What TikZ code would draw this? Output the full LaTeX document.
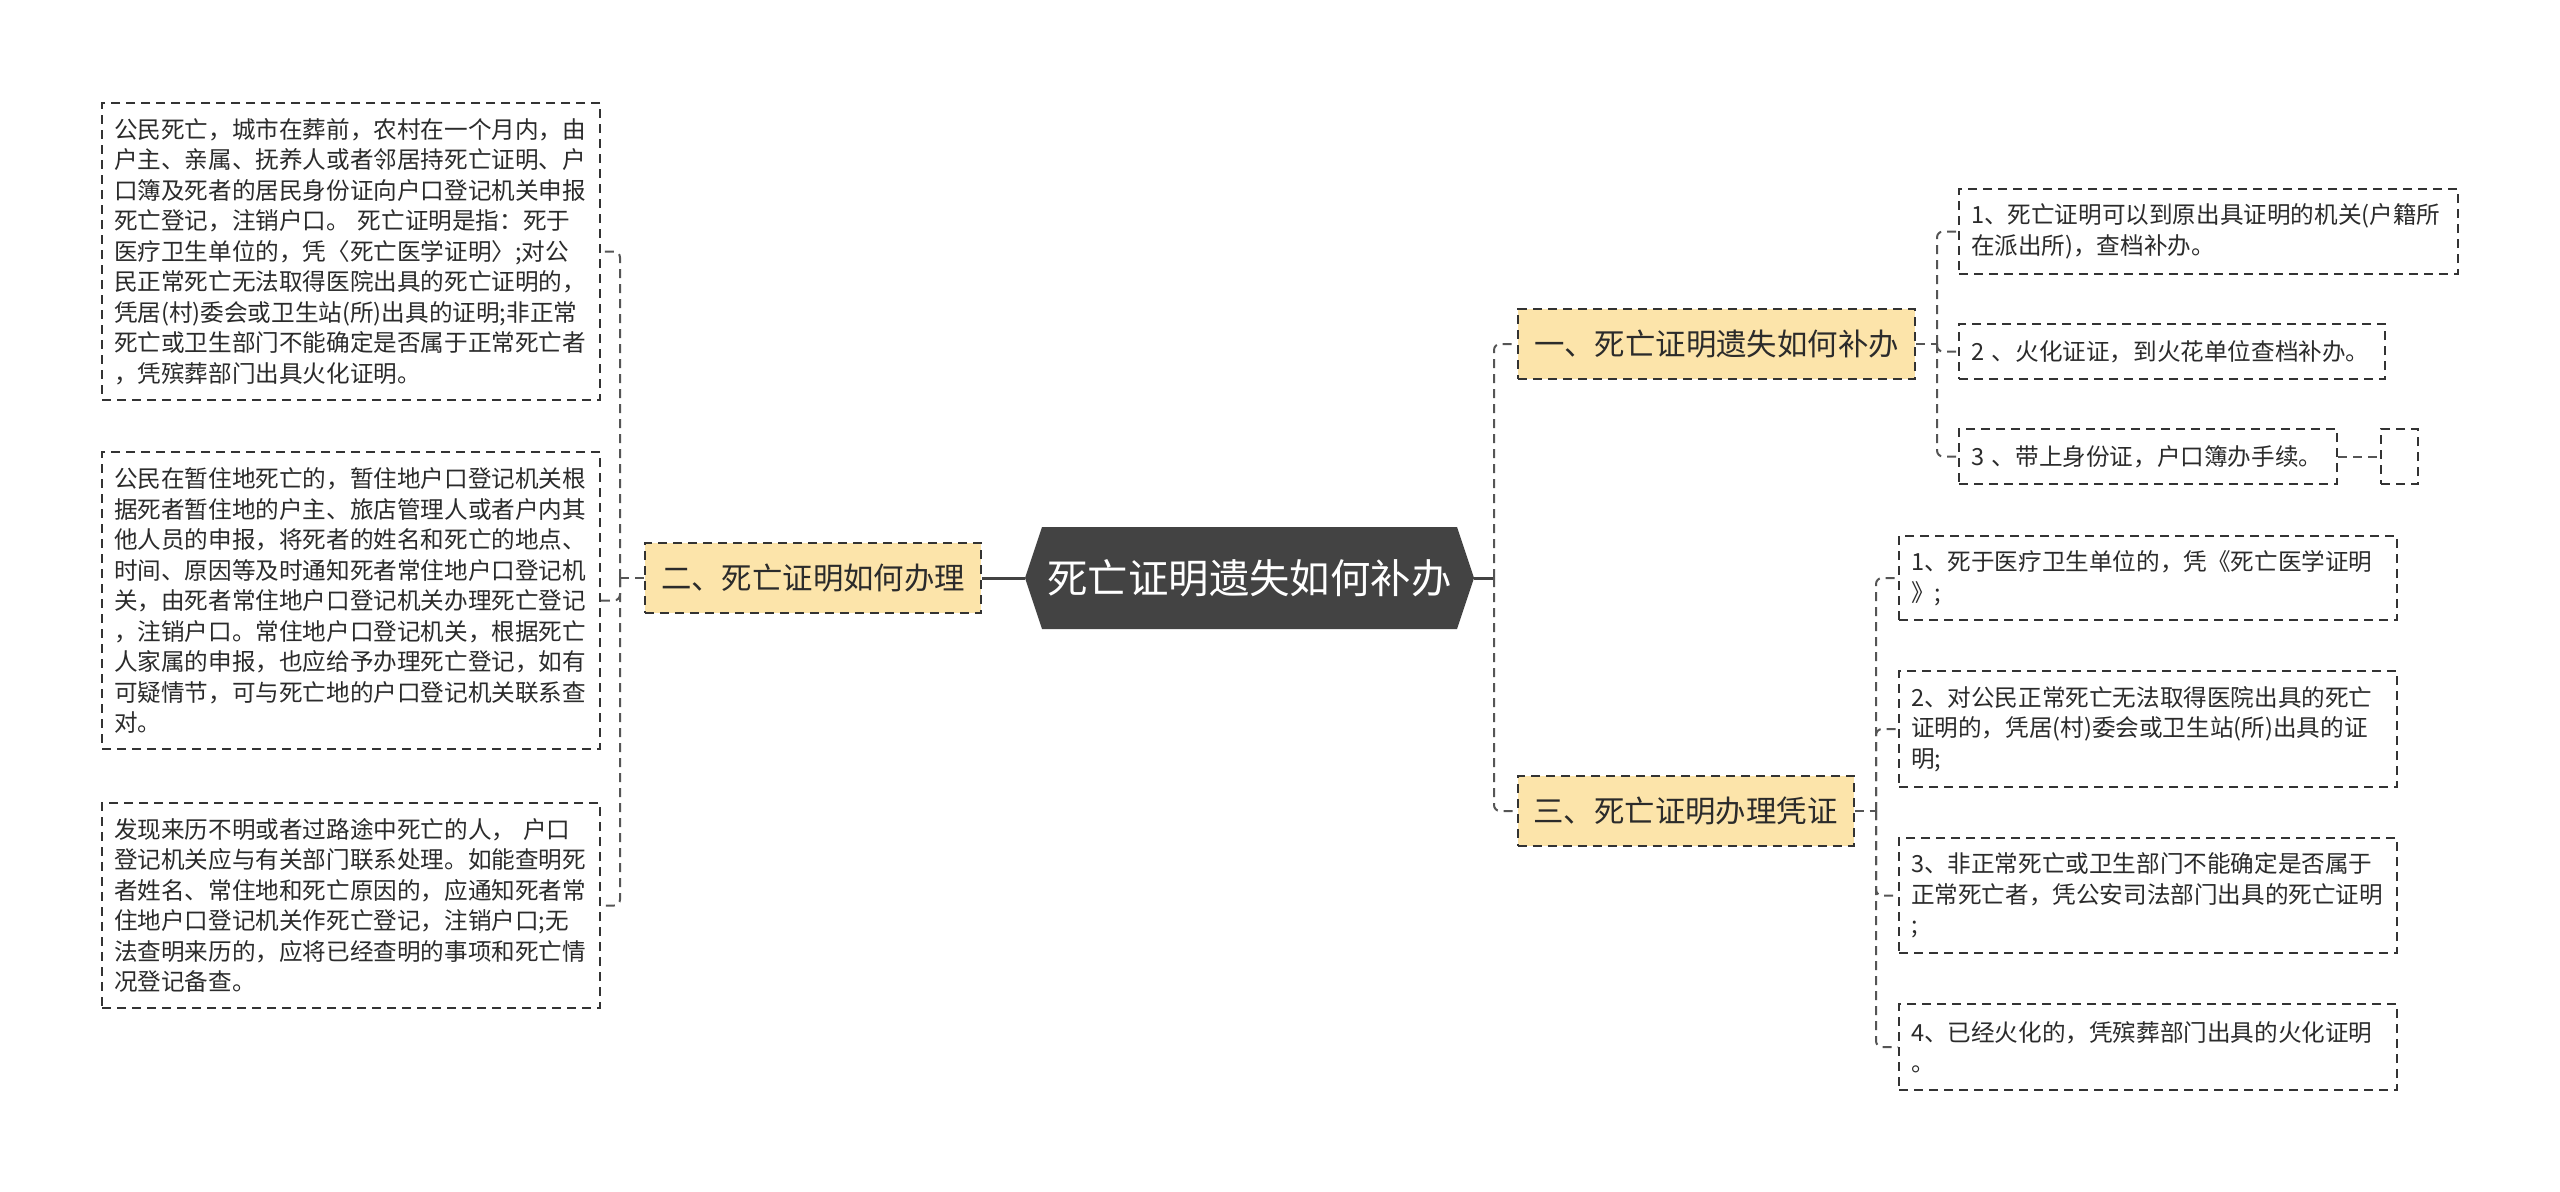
\documentclass[tikz,border=0pt]{standalone}
\usepackage{fontspec}
\setmainfont{Noto Sans CJK SC}
\definecolor{cborder}{HTML}{333333}
\definecolor{cline}{HTML}{555555}
\definecolor{ctext}{HTML}{2B2B2B}
\definecolor{cyellow}{HTML}{FCE4AA}
\definecolor{cdark}{HTML}{434343}
\newcommand\myleaf{\fontsize{11.8}{15.25}\selectfont}
\newcommand\mylvl{\fontsize{15.2}{18}\selectfont}
\newcommand\mycenter{\fontsize{20.2}{24}\selectfont}
\tikzset{
  leaf/.style={draw=cborder, line width=1pt, dash pattern=on 4.5pt off 3pt, fill=white,
    font=\myleaf, text=ctext, align=left, inner xsep=6pt, inner ysep=0pt, anchor=center},
  lvl/.style={draw=cborder, line width=1pt, dash pattern=on 4.5pt off 3pt, fill=cyellow,
    font=\mylvl, text=ctext, inner xsep=8pt, inner ysep=0pt, minimum height=35pt, anchor=center},
  conn/.style={draw=cline, line width=1pt, dash pattern=on 4.5pt off 3pt, rounded corners=3pt},
  mainconn/.style={draw=cdark, line width=1.5pt},
}
\begin{document}
\begin{tikzpicture}[x=0.5pt,y=-0.5pt]
\useasboundingbox[fill=white] (0,0) rectangle (2560,1191);

% central hexagon
\path[fill=cdark] (1025,578) -- (1042,527) -- (1457,527) -- (1474,578) -- (1457,629) -- (1042,629) -- cycle;
\node[font=\mycenter, text=white, minimum width=224.5pt, minimum height=51pt, inner sep=0pt] (c) at (1249.5,578) {死亡证明遗失如何补办};

% left side
\node[lvl] (l2) at (813,578) {二、死亡证明如何办理};

\node[leaf, text width=237pt, minimum height=148.5pt] (la) at (351,251.5) {公民死亡，城市在葬前，农村在一个月内，由\\户主、亲属、抚养人或者邻居持死亡证明、户\\口簿及死者的居民身份证向户口登记机关申报\\死亡登记，注销户口。 死亡证明是指：死于\\医疗卫生单位的，凭〈死亡医学证明〉;对公\\民正常死亡无法取得医院出具的死亡证明的，\\凭居(村)委会或卫生站(所)出具的证明;非正常\\死亡或卫生部门不能确定是否属于正常死亡者\\，凭殡葬部门出具火化证明。};

\node[leaf, text width=237pt, minimum height=148.5pt] (lb) at (351,600.5) {公民在暂住地死亡的，暂住地户口登记机关根\\据死者暂住地的户主、旅店管理人或者户内其\\他人员的申报，将死者的姓名和死亡的地点、\\时间、原因等及时通知死者常住地户口登记机\\关，由死者常住地户口登记机关办理死亡登记\\，注销户口。常住地户口登记机关，根据死亡\\人家属的申报，也应给予办理死亡登记，如有\\可疑情节，可与死亡地的户口登记机关联系查\\对。};

\node[leaf, text width=237pt, minimum height=102.5pt] (lc) at (351,905.5) {发现来历不明或者过路途中死亡的人， 户口\\登记机关应与有关部门联系处理。如能查明死\\者姓名、常住地和死亡原因的，应通知死者常\\住地户口登记机关作死亡登记，注销户口;无\\法查明来历的，应将已经查明的事项和死亡情\\况登记备查。};

% right side, level 1
\node[lvl] (r1) at (1716.5,344) {一、死亡证明遗失如何补办};
\node[lvl] (r3) at (1685.5,811) {三、死亡证明办理凭证};

% group 1 leaves
\node[leaf, text width=237.5pt, minimum height=42.5pt] (a1) at (2208.5,231.5) {1、死亡证明可以到原出具证明的机关(户籍所\\在派出所)，查档补办。};
\node[leaf, text width=201pt, minimum height=27.5pt] (a2) at (2172,351.5) {2 、火化证证，到火花单位查档补办。};
\node[leaf, text width=177pt, minimum height=27.5pt] (a3) at (2148,456.5) {3 、带上身份证，户口簿办手续。};
\node[leaf, text width=6.5pt, minimum height=27.5pt] (a4) at (2399.5,456.5) {};

% group 3 leaves
\node[leaf, text width=237pt, minimum height=42pt] (b1) at (2148,578) {1、死于医疗卫生单位的，凭《死亡医学证明\\》;};
\node[leaf, text width=237pt, minimum height=58pt] (b2) at (2148,729) {2、对公民正常死亡无法取得医院出具的死亡\\证明的，凭居(村)委会或卫生站(所)出具的证\\明;};
\node[leaf, text width=237pt, minimum height=57.5pt] (b3) at (2148,895.5) {3、非正常死亡或卫生部门不能确定是否属于\\正常死亡者，凭公安司法部门出具的死亡证明\\;};
\node[leaf, text width=237pt, minimum height=43pt] (b4) at (2148,1047) {4、已经火化的，凭殡葬部门出具的火化证明\\。};

% junction coordinates
\coordinate (jr) at (1494,578);
\coordinate (jl) at (620,578);
\coordinate (j1) at (1937,344);
\coordinate (j3) at (1876,811);

% main connectors
\draw[mainconn] (c.west) -- (l2.east);
\draw[mainconn] (c.east) -- (jr);
\draw[conn] (jr) |- (r1.west);
\draw[conn] (jr) |- (r3.west);

% left bracket
\draw[conn] (l2.west) -- (jl);
\draw[conn] (jl) |- (la.east);
\draw[conn] (jl) |- (lb.east);
\draw[conn] (jl) |- (lc.east);

% group 1 bracket
\draw[conn] (r1.east) -- (j1);
\draw[conn] (j1) |- (a1.west);
\draw[conn] (j1) |- (a2.west);
\draw[conn] (j1) |- (a3.west);
\draw[conn] (a3.east) -- (a4.west);

% group 3 bracket
\draw[conn] (r3.east) -- (j3);
\draw[conn] (j3) |- (b1.west);
\draw[conn] (j3) |- (b2.west);
\draw[conn] (j3) |- (b3.west);
\draw[conn] (j3) |- (b4.west);
\end{tikzpicture}
\end{document}
